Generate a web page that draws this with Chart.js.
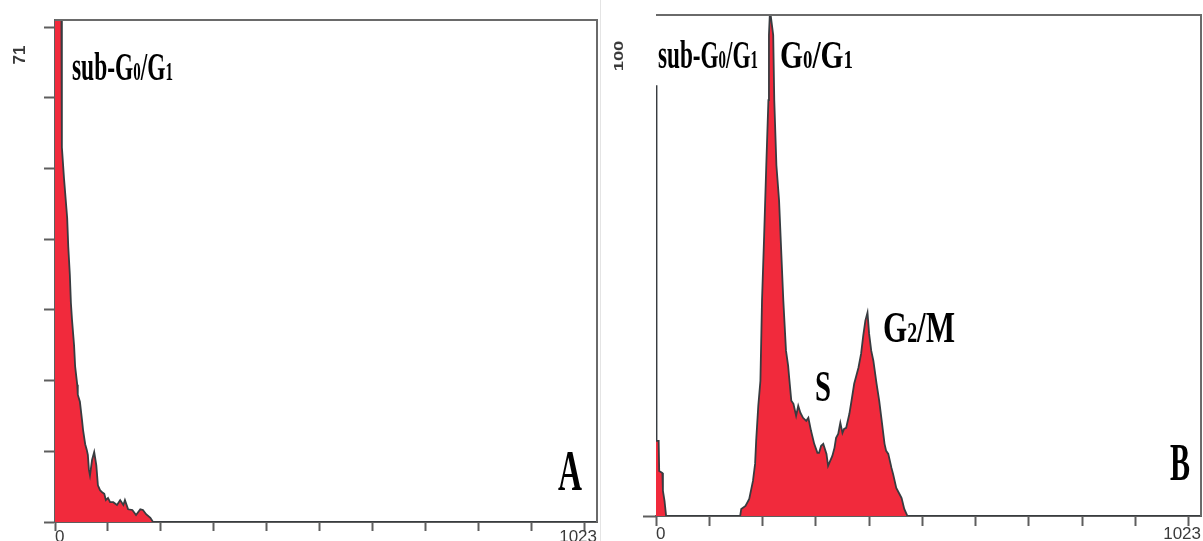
<!DOCTYPE html>
<html>
<head>
<meta charset="utf-8">
<script src="https://cdn.jsdelivr.net/npm/chart.js@4.4.1/dist/chart.umd.min.js"></script>
<style>
  html, body { margin:0; padding:0; background:#fff; overflow:hidden; }
  #wrap { position:relative; width:1203px; height:541px; }
  .panel { position:absolute; top:0; }
  #panelA { left:0; width:600px; height:541px; }
  #panelB { left:600px; width:603px; height:541px; border-left:1px solid #e4e4e4; box-sizing:border-box; }
  .lbl { position:absolute; font-family:"Liberation Serif","Times New Roman",serif; font-weight:bold;
         color:#000; line-height:1; white-space:nowrap; transform-origin:left top; }
  .lbl .s { font-size:0.64em; }
  .axnum { position:absolute; font-family:"Liberation Sans",Arial,sans-serif; font-weight:bold;
           color:#3a3a3a; line-height:1; white-space:nowrap; }
</style>
</head>
<body>
<div id="wrap">
  <div class="panel" id="panelA"><canvas id="chartA" width="600" height="541"></canvas></div>
  <div class="panel" id="panelB"><canvas id="chartB" width="603" height="541"></canvas></div>
</div>
<script>
// ---- data: DNA content histograms (channel -> cell count) ----
const channelsA = [0, 5, 10, 12, 13, 17, 23, 25, 28, 30, 32, 36, 38, 42, 43, 47, 51, 53, 57, 60, 62, 64, 66,
  70, 74, 78, 81, 85, 89, 93, 96, 100, 104, 110, 117, 123, 129, 132, 138, 146, 153, 161, 166, 172, 180, 185, 1023];
const countsA = [150, 120, 90, 75, 53, 48.6, 43, 39, 35, 31, 28.7, 25, 22, 19.4, 18, 17, 14.4, 13, 11, 10.2, 9.5, 7.4, 6.6,
  8.8, 9.9, 8, 5.2, 4.5, 4.2, 4, 3.1, 3.4, 2.8, 2.8, 2.4, 3.1, 2.4, 3.1, 1.8, 1.7, 1, 1.8, 1.7, 1.1, 0.6, 0, 0];

const channelsB = [0, 1, 5, 6, 12, 13, 16, 19, 158, 160, 168, 175, 182, 186, 188, 192, 196, 199, 203, 207, 211, 212, 214,
  220, 222, 226, 231, 239, 244, 248, 250, 254, 258, 263, 267, 271, 276, 282, 286, 291, 297, 303, 306, 310, 314,
  320, 323, 327, 331, 335, 338, 342, 346, 350, 353, 357, 363, 367, 372, 376, 380, 385, 389, 393, 397, 400, 404,
  408, 414, 419, 423, 429, 432, 436, 442, 445, 451, 457, 461, 466, 472, 1023];
const countsB = [86, 15, 15, 9, 8.6, 5, 3, 0, 0, 1.4, 2, 3.4, 7, 10.4, 15, 22, 27, 43, 56, 70, 83, 96, 101,
  96, 83, 70, 63, 43, 33, 30, 27.6, 23, 22.4, 20, 22, 20.6, 19.6, 19, 19.6, 17, 14.4, 12.6, 12.6, 14, 14.4,
  12.4, 10, 11, 12, 13.6, 15.6, 16.4, 18.6, 16.6, 17.4, 17.6, 20.4, 23, 26.4, 28, 29.6, 32.4, 36, 39, 40.6, 36.4, 33,
  31, 26.4, 23, 19.6, 14.4, 13, 12.4, 9.6, 8.4, 5.6, 4.4, 3.6, 1.4, 0, 0];

const xTicks = [0, 100, 200, 300, 400, 500, 600, 700, 800, 900, 1000, 1023];
const xLabels = { 0: '0', 1023: '1023' };
const yTicksA = [0, 10, 20, 30, 40, 50, 60, 70];
const yTicksB = [0];
const yMaxA = 71;
const yMaxB = 100;

const fillRed = '#f12a3c';
const outline = '#383c40';
const axisGray = '#5e5e5e';

// top + right frame of the plot box
const frame = {
  id: 'frame',
  afterDraw(chart){
    const {ctx, chartArea:a} = chart;
    ctx.save();
    ctx.strokeStyle = '#6a6a6a';
    ctx.lineWidth = 2;
    ctx.beginPath();
    ctx.moveTo(a.left, a.top); ctx.lineTo(a.right, a.top); ctx.lineTo(a.right, a.bottom);
    ctx.stroke();
    ctx.restore();
  }
};

function makeChart(id, channels, counts, opt){
  return new Chart(document.getElementById(id), {
    type:'line',
    data:{
      datasets:[{
        data: channels.map((c,i)=>({x:c, y:counts[i]})),
        borderColor: outline, backgroundColor: fillRed, borderWidth: 1.8,
        fill:'origin', pointRadius:0, tension:0
      }]
    },
    options:{
      responsive:false, animation:false, parsing:false,
      layout:{ padding: opt.padding },
      plugins:{ legend:{display:false}, tooltip:{enabled:false} },
      scales:{
        x:{
          type:'linear', min:0, max:1023,
          afterBuildTicks: s => { s.ticks = xTicks.map(v=>({value:v})); },
          afterFit: s => { s.height = opt.xHeight; },
          ticks:{ autoSkip:false, maxRotation:0, align:'inner', padding:opt.xPad,
                  color:'#3a3a3a', font:{family:'Liberation Sans', size:17},
                  callback: v => xLabels[v] || '' },
          grid:{ drawOnChartArea:false, tickLength:opt.xTick, tickWidth:2,
                 tickColor: c => (c.tick && c.tick.value === 1023) ? 'rgba(0,0,0,0)' : axisGray },
          border:{ display:true, color:axisGray, width:2 }
        },
        y:{
          type:'linear', min:0, max:opt.yMax,
          afterBuildTicks: s => { s.ticks = opt.yTicks.map(v=>({value:v})); },
          afterFit: s => { s.width = 55; },
          ticks:{ display:false },
          grid:{ drawOnChartArea:false, tickLength:opt.yTick, tickWidth:2, tickColor:axisGray },
          border:{ display:opt.yBorder, color:axisGray, width:2 }
        }
      }
    },
    plugins:[frame]
  });
}

makeChart('chartA', channelsA, countsA, {padding:{top:20, right:3, left:0, bottom:0}, xHeight:19, xTick:9, xPad:-4,
  yMax:yMaxA, yTicks:yTicksA, yTick:11, yBorder:true});
makeChart('chartB', channelsB, countsB, {padding:{top:15, right:3, left:0, bottom:0}, xHeight:25, xTick:10, xPad:-2,
  yMax:yMaxB, yTicks:yTicksB, yTick:13, yBorder:false});

// ---- text labels (phase names, panel letters, axis maxima) ----
const wrap = document.getElementById('wrap');
const phaseLabels = [
  {html:'sub-G<span class="s">0</span>/G<span class="s">1</span>', left:72,  base:80,  size:40, w:101},
  {html:'sub-G<span class="s">0</span>/G<span class="s">1</span>', left:658, base:68,  size:39, w:100},
  {html:'G<span class="s">0</span>/G<span class="s">1</span>',     left:780, base:68,  size:39, w:73},
  {html:'S',                                                        left:815, base:402, size:44, w:16},
  {html:'G<span class="s">2</span>/M',                              left:883, base:343, size:45, w:72},
  {html:'A',                                                        left:558, base:490, size:56, w:24},
  {html:'B',                                                        left:1170,base:480, size:53, w:20}
];
phaseLabels.forEach(p=>{
  const d = document.createElement('div');
  d.className = 'lbl';
  d.innerHTML = p.html;
  d.style.fontSize = p.size + 'px';
  d.style.left = p.left + 'px';
  d.style.top = (p.base - 0.8375*p.size) + 'px';
  wrap.appendChild(d);
  const w = d.getBoundingClientRect().width;
  d.style.transform = `scaleX(${(p.w / w).toFixed(3)})`;
});

const axisMax = [
  {text:String(yMaxA), cx:19,  cy:55, size:17, sx:1.0,  sy:1.0},
  {text:String(yMaxB), cx:619, cy:56, size:16, sx:1.15, sy:0.75}
];
axisMax.forEach(a=>{
  const d = document.createElement('div');
  d.className = 'axnum';
  d.textContent = a.text;
  d.style.fontSize = a.size + 'px';
  d.style.left = a.cx + 'px';
  d.style.top = a.cy + 'px';
  d.style.transform = `translate(-50%,-50%) rotate(-90deg) scale(${a.sx},${a.sy})`;
  wrap.appendChild(d);
});
</script>
</body>
</html>
